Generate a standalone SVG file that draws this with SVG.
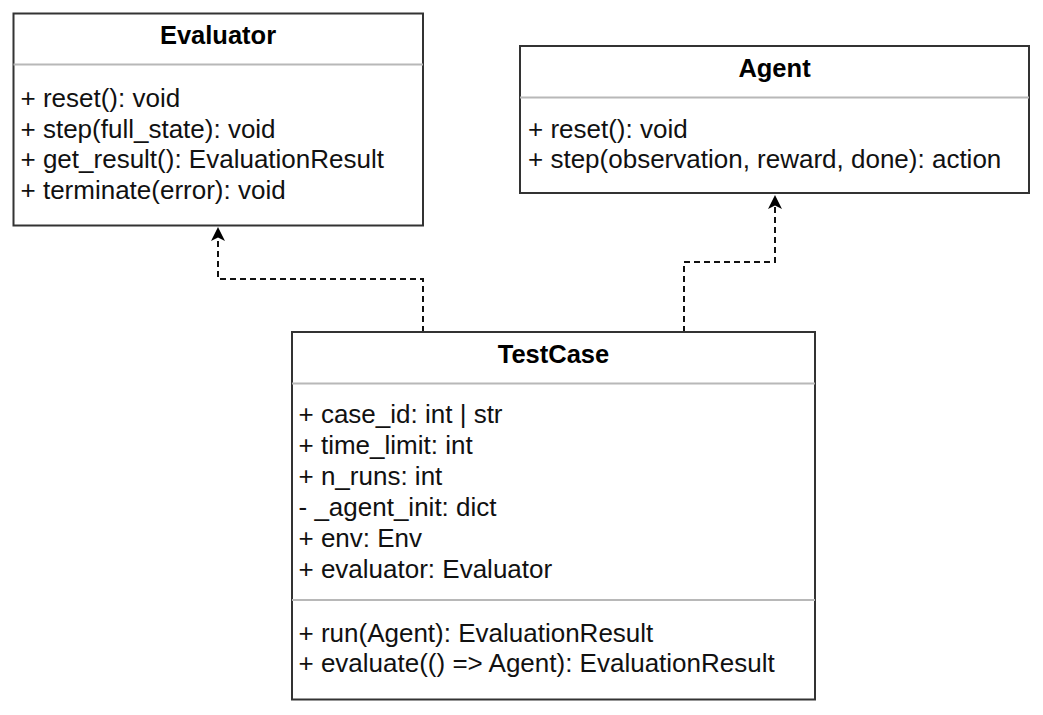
<svg xmlns="http://www.w3.org/2000/svg" width="1043" height="715" viewBox="0 0 1043 715">
<defs>
<style>
.box{fill:#ffffff;stroke:#333333;stroke-width:2}
.sep{stroke:#b8b8b8;stroke-width:2;fill:none}
.title{font-family:"Liberation Sans",Arial,sans-serif;font-size:25.5px;font-weight:bold;fill:#000000;text-anchor:middle}
.item{font-family:"Liberation Sans",Arial,sans-serif;font-size:26px;fill:#111111}
.conn{fill:none;stroke:#111111;stroke-width:2;stroke-dasharray:6 4}
</style>
<marker id="arrow" viewBox="0 0 14 14" markerWidth="14" markerHeight="14" refX="14" refY="7" orient="auto" markerUnits="userSpaceOnUse">
<path d="M0,0 L14,7 L0,14 L3.5,7 z" fill="#000000"/>
</marker>
</defs>
<rect width="1043" height="715" fill="#ffffff"/>
<g id="connectors">
<path class="conn" d="M423,332 V279 H218 V227" marker-end="url(#arrow)"/>
<path class="conn" d="M684,332 V262 H775 V195" marker-end="url(#arrow)"/>
</g>
<g id="evaluator">
<rect class="box" x="13.5" y="13.5" width="409.5" height="212"/>
<line class="sep" x1="13.5" y1="64.5" x2="423" y2="64.5"/>
<text class="title" x="218" y="44">Evaluator</text>
<text class="item" x="20.5" y="107">+ reset(): void</text>
<text class="item" x="20.5" y="137.5">+ step(full_state): void</text>
<text class="item" x="20.5" y="168">+ get_result(): EvaluationResult</text>
<text class="item" x="20.5" y="198.5">+ terminate(error): void</text>
</g>
<g id="agent">
<rect class="box" x="520" y="46" width="509" height="147"/>
<line class="sep" x1="520" y1="97.5" x2="1029" y2="97.5"/>
<text class="title" x="774.5" y="77">Agent</text>
<text class="item" x="528" y="137.5">+ reset(): void</text>
<text class="item" x="528" y="168">+ step(observation, reward, done): action</text>
</g>
<g id="testcase">
<rect class="box" x="292" y="332" width="523" height="367.5"/>
<line class="sep" x1="292" y1="383.5" x2="815" y2="383.5"/>
<line class="sep" x1="292" y1="600" x2="815" y2="600"/>
<text class="title" x="553.5" y="363">TestCase</text>
<text class="item" x="298.5" y="423">+ case_id: int | str</text>
<text class="item" x="298.5" y="454">+ time_limit: int</text>
<text class="item" x="298.5" y="485">+ n_runs: int</text>
<text class="item" x="298.5" y="516">- _agent_init: dict</text>
<text class="item" x="298.5" y="547">+ env: Env</text>
<text class="item" x="298.5" y="578">+ evaluator: Evaluator</text>
<text class="item" x="298.5" y="641.5">+ run(Agent): EvaluationResult</text>
<text class="item" x="298.5" y="672">+ evaluate(() =&gt; Agent): EvaluationResult</text>
</g>
</svg>
